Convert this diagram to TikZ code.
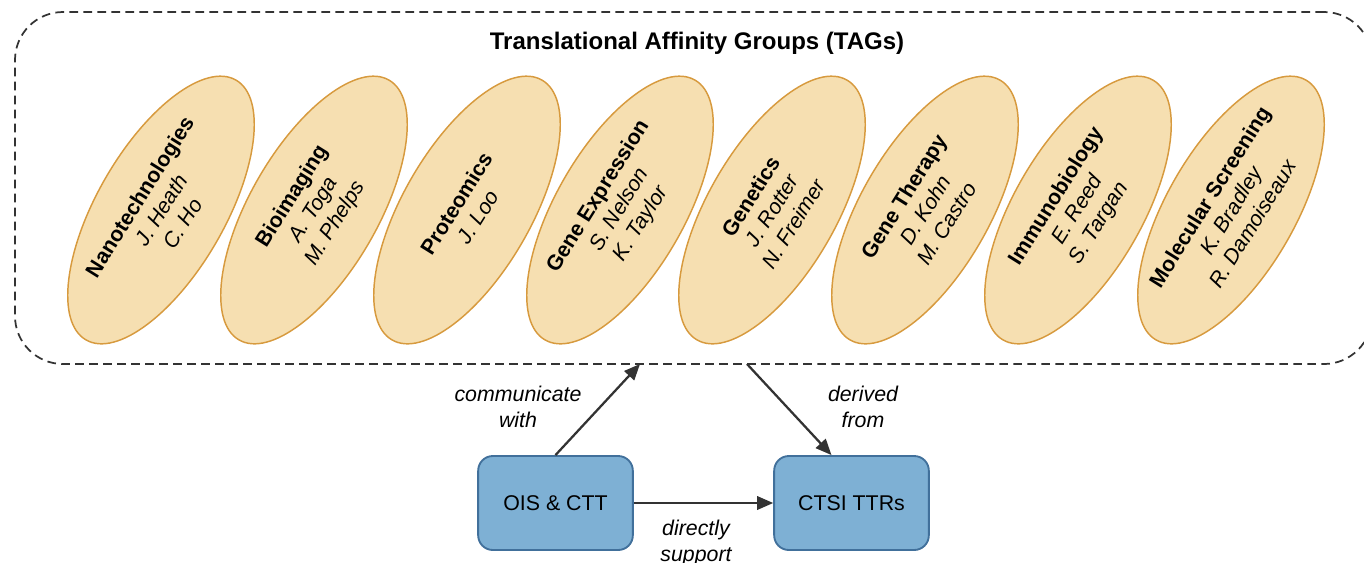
\documentclass[tikz,border=0pt]{standalone}
\usepackage{fontspec}
\setmainfont{Liberation Sans}
\usetikzlibrary{shapes.geometric,arrows.meta,positioning}
\definecolor{tagfill}{HTML}{F6DFB1}
\definecolor{tagline}{HTML}{D79A3E}
\definecolor{boxfill}{HTML}{7EB0D4}
\definecolor{boxline}{HTML}{41709B}
\definecolor{darkline}{HTML}{333333}

\begin{document}
\begin{tikzpicture}[x=0.75pt,y=-0.75pt]
            \tikzset{
            tag node/.style={ellipse,draw=tagline,fill=tagfill,line width=1.1pt,minimum width=225pt,minimum height=96pt,inner sep=0,rotate=60},
            tag text/.style={rotate=58,align=center,inner sep=0,font=\fontsize{16}{19}\selectfont},
            group box/.style={draw=darkline,line width=1.3pt,dash pattern=on 6.5pt off 4pt,rounded corners=36pt,minimum width=1017.75pt,minimum height=264pt,inner sep=0},
            unit node/.style={rectangle,rounded corners=11pt,draw=boxline,fill=boxfill,line width=1.4pt,minimum width=116pt,minimum height=70.5pt,font=\fontsize{16}{19}\selectfont},
            link edge/.style={-{Triangle[length=12pt,width=10pt]},draw=darkline,line width=1.7pt},
            link label/.style={align=center,inner sep=0,font=\fontsize{16}{19.5}\selectfont\itshape}
            }
            \useasboundingbox (0,0) rectangle (1364,562);

            \node[group box] (tags) at (693.5,188) {};
            \node[font=\fontsize{18}{22}\selectfont\bfseries] (tags title) at (697,43) {Translational Affinity Groups (TAGs)};

            \node[tag node] (nano) at (161,210) {};
            \node[tag node] (bioim) at (314,210) {};
            \node[tag node] (prot) at (467,210) {};
            \node[tag node] (gexpr) at (620,210) {};
            \node[tag node] (genet) at (772,210) {};
            \node[tag node] (gther) at (925,210) {};
            \node[tag node] (immuno) at (1078,210) {};
            \node[tag node] (molscr) at (1231,210) {};

            \node[tag text] (nano text) at (nano) {\textbf{Nanotechnologies}\\\textit{J. Heath}\\\textit{C. Ho}};
            \node[tag text] (bioim text) at (bioim) {\textbf{Bioimaging}\\\textit{A. Toga}\\\textit{M. Phelps}};
            \node[tag text] (prot text) at (prot) {\textbf{Proteomics}\\\textit{J. Loo}};
            \node[tag text] (gexpr text) at (gexpr) {\textbf{Gene Expression}\\\textit{S. Nelson}\\\textit{K. Taylor}};
            \node[tag text] (genet text) at (genet) {\textbf{Genetics}\\\textit{J. Rotter}\\\textit{N. Freimer}};
            \node[tag text] (gther text) at (gther) {\textbf{Gene Therapy}\\\textit{D. Kohn}\\\textit{M. Castro}};
            \node[tag text] (immuno text) at (immuno) {\textbf{Immunobiology}\\\textit{E. Reed}\\\textit{S. Targan}};
            \node[tag text] (molscr text) at (molscr) {\textbf{Molecular Screening}\\\textit{K. Bradley}\\\textit{R. Damoiseaux}};

            \node[unit node] (ois) at (555.5,503) {OIS \& CTT};
            \node[unit node] (ctsi) at (851.5,503) {CTSI TTRs};

            \coordinate (comm end) at (640,364);
            \coordinate (deriv start) at (747,364);

            \path
            (ois.north) edge[link edge] (comm end)
            (deriv start) edge[link edge] ([xshift=-15pt]ctsi.north)
            (ois.east) edge[link edge] (ctsi.west)
            ;

            \node[link label] (comm label) at (518,407) {communicate\\with};
            \node[link label] (deriv label) at (863,407) {derived\\from};
            \node[link label] (supp label) at (696,543) {directly\\support};
        \end{tikzpicture}
\end{document}
